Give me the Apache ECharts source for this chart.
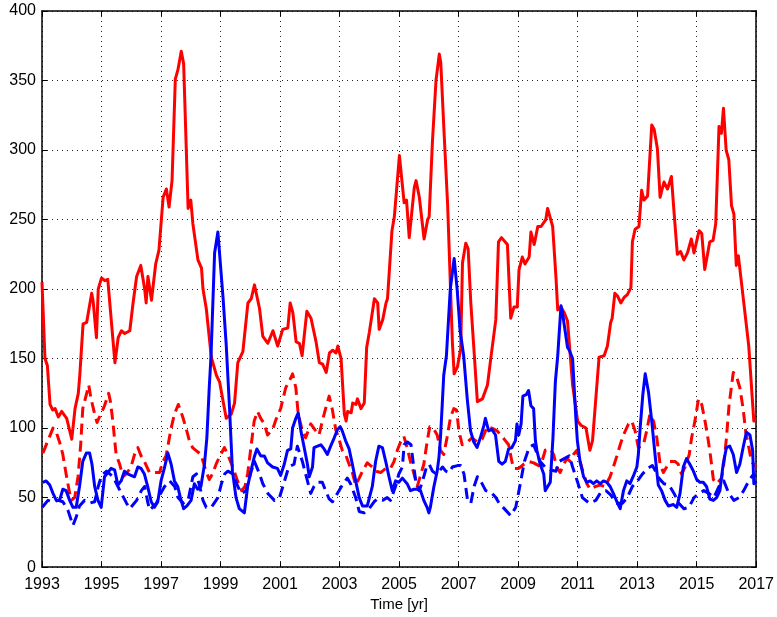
<!DOCTYPE html>
<html>
<head>
<meta charset="utf-8">
<title>Time series 1993-2017</title>
<script src="https://cdn.jsdelivr.net/npm/echarts@6/dist/echarts.min.js"></script>
<style>
html, body { margin: 0; padding: 0; background: #fff; }
#myChart { width: 777px; height: 617px; }
</style>
</head>
<body>
<div id="myChart"></div>
<script>
// x ticks / y ticks
var xTicks = [1993, 1995, 1997, 1999, 2001, 2003, 2005, 2007, 2009, 2011, 2013, 2015, 2017]
var yTicks = [0, 50, 100, 150, 200, 250, 300, 350, 400]

// red solid line [year, value]
var redSolid = [
  [1993.00,205],[1993.10,150],[1993.18,145],[1993.27,117],[1993.36,113],[1993.44,114],[1993.55,108],[1993.66,112],[1993.83,107],[1994.00,92],
  [1994.11,114],[1994.22,125],[1994.27,138],[1994.38,175],[1994.50,176],[1994.67,197],[1994.72,191],[1994.83,165],[1994.89,200],[1995.00,208],
  [1995.11,206],[1995.21,207],[1995.45,147],[1995.56,165],[1995.67,170],[1995.78,168],[1995.95,170],[1996.06,190],[1996.18,209],[1996.32,217],
  [1996.45,200],[1996.50,190],[1996.56,209],[1996.68,192],[1996.82,218],[1996.93,228],[1997.07,266],[1997.18,272],[1997.27,259],[1997.37,278],
  [1997.48,351],[1997.57,358],[1997.68,371],[1997.76,362],[1997.91,258],[1998.00,264],[1998.07,247],[1998.24,221],[1998.36,215],[1998.41,200],
  [1998.52,186],[1998.69,151],[1998.86,138],[1998.97,133],[1999.19,107],[1999.36,110],[1999.47,118],[1999.58,147],[1999.75,155],[1999.92,190],
  [2000.03,193],[2000.14,203],[2000.31,186],[2000.42,166],[2000.59,161],[2000.76,170],[2000.92,159],[2001.09,171],[2001.26,172],[2001.34,190],
  [2001.43,183],[2001.54,162],[2001.65,161],[2001.74,152],[2001.90,184],[2002.04,179],[2002.21,162],[2002.32,147],[2002.43,146],[2002.55,140],
  [2002.66,154],[2002.77,156],[2002.88,154],[2002.94,159],[2003.05,150],[2003.16,110],[2003.22,105],[2003.27,112],[2003.39,111],[2003.44,118],
  [2003.55,117],[2003.60,121],[2003.72,114],[2003.83,118],[2003.91,158],[2004.00,169],[2004.17,193],[2004.28,190],[2004.33,171],[2004.45,178],
  [2004.56,190],[2004.61,193],[2004.76,242],[2004.84,252],[2005.01,296],[2005.17,262],[2005.25,264],[2005.34,237],[2005.51,273],[2005.57,278],
  [2005.68,266],[2005.84,236],[2005.96,250],[2006.01,252],[2006.12,306],[2006.24,350],[2006.35,369],[2006.40,363],[2006.51,313],[2006.63,261],
  [2006.79,162],[2006.85,139],[2006.96,144],[2007.07,157],[2007.13,219],[2007.24,233],[2007.32,229],[2007.41,190],[2007.52,155],[2007.63,119],
  [2007.80,121],[2007.97,131],[2008.08,150],[2008.25,178],[2008.34,234],[2008.44,237],[2008.64,232],[2008.75,179],[2008.86,187],[2008.97,187],
  [2009.03,214],[2009.14,223],[2009.23,218],[2009.37,223],[2009.43,241],[2009.54,232],[2009.66,245],[2009.77,245],[2009.93,250],[2009.99,258],
  [2010.16,245],[2010.27,209],[2010.33,185],[2010.44,187],[2010.55,183],[2010.66,177],[2010.83,131],[2011.00,105],[2011.11,102],[2011.28,100],
  [2011.41,84],[2011.50,91],[2011.61,121],[2011.72,151],[2011.89,152],[2012.00,159],[2012.11,176],[2012.16,179],[2012.25,197],[2012.34,195],
  [2012.45,190],[2012.56,194],[2012.67,196],[2012.79,201],[2012.84,234],[2012.93,243],[2013.06,245],[2013.15,271],[2013.23,264],[2013.35,267],
  [2013.49,318],[2013.57,315],[2013.68,301],[2013.77,266],[2013.90,277],[2014.02,272],[2014.15,281],[2014.24,255],[2014.35,225],[2014.46,227],
  [2014.57,221],[2014.69,226],[2014.82,236],[2014.91,226],[2015.08,242],[2015.17,240],[2015.27,214],[2015.44,234],[2015.55,235],[2015.64,247],
  [2015.75,317],[2015.83,312],[2015.90,330],[2015.99,300],[2016.08,293],[2016.17,260],[2016.25,254],[2016.33,217],[2016.40,224],[2016.53,200],
  [2016.75,159],[2016.92,105],[2017.00,105]
]

// red dashed line
var redDashed = [
  [1993.03,82],[1993.37,100],[1993.48,97],[1993.59,90],[1993.70,81],[1993.81,67],[1993.93,53],[1993.98,48],[1994.10,50],[1994.21,65],
  [1994.30,88],[1994.37,114],[1994.49,124],[1994.57,131],[1994.65,121],[1994.77,110],[1994.85,104],[1994.97,110],[1995.10,116],[1995.24,125],
  [1995.30,119],[1995.38,105],[1995.49,81],[1995.61,74],[1995.72,65],[1995.83,67],[1995.99,72],[1996.11,81],[1996.22,86],[1996.33,80],
  [1996.44,76],[1996.61,68],[1996.78,68],[1996.95,68],[1997.06,76],[1997.17,80],[1997.34,100],[1997.45,110],[1997.58,117],[1997.73,108],
  [1997.84,100],[1997.95,91],[1998.06,86],[1998.17,84],[1998.34,81],[1998.51,69],[1998.62,63],[1998.73,67],[1998.85,74],[1998.96,79],
  [1999.13,86],[1999.24,81],[1999.41,72],[1999.57,62],[1999.71,55],[1999.82,58],[1999.91,67],[2000.02,86],[2000.13,105],[2000.24,112],
  [2000.35,107],[2000.47,103],[2000.58,95],[2000.75,99],[2000.86,106],[2001.02,114],[2001.19,129],[2001.36,136],[2001.42,139],[2001.53,129],
  [2001.61,110],[2001.75,98],[2001.86,93],[2002.03,103],[2002.20,98],[2002.31,95],[2002.42,105],[2002.53,114],[2002.65,123],[2002.76,113],
  [2002.87,99],[2002.98,92],[2003.09,84],[2003.20,81],[2003.32,74],[2003.43,68],[2003.54,59],[2003.66,64],[2003.77,69],[2003.93,75],
  [2004.10,72],[2004.21,69],[2004.38,68],[2004.55,71],[2004.71,71],[2004.83,76],[2004.94,84],[2005.05,90],[2005.16,94],[2005.27,86],
  [2005.38,76],[2005.50,67],[2005.61,58],[2005.72,66],[2005.83,74],[2005.94,90],[2006.03,101],[2006.17,99],[2006.28,95],[2006.39,84],
  [2006.50,81],[2006.61,93],[2006.73,108],[2006.84,114],[2006.93,113],[2007.01,98],[2007.12,88],[2007.29,90],[2007.45,93],[2007.62,90],
  [2007.79,92],[2007.96,101],[2008.12,100],[2008.29,98],[2008.46,94],[2008.57,91],[2008.68,88],[2008.79,76],[2008.85,71],[2009.02,71],
  [2009.19,74],[2009.35,76],[2009.52,75],[2009.69,73],[2009.80,76],[2009.91,84],[2010.08,85],[2010.19,81],[2010.30,72],[2010.41,68],
  [2010.53,74],[2010.64,78],[2010.75,76],[2010.86,81],[2010.97,84],[2011.08,76],[2011.20,67],[2011.31,60],[2011.42,56],[2011.59,58],
  [2011.76,59],[2011.92,58],[2012.09,65],[2012.20,72],[2012.32,80],[2012.43,88],[2012.54,95],[2012.71,103],[2012.82,105],[2012.93,98],
  [2013.04,86],[2013.21,88],[2013.32,98],[2013.43,110],[2013.55,105],[2013.66,93],[2013.77,74],[2013.88,68],[2013.99,72],[2014.10,76],
  [2014.27,76],[2014.38,74],[2014.49,67],[2014.61,72],[2014.75,81],[2014.83,93],[2014.94,105],[2015.06,121],[2015.17,117],[2015.28,105],
  [2015.39,91],[2015.47,79],[2015.56,63],[2015.67,60],[2015.84,64],[2015.91,74],[2016.00,93],[2016.09,117],[2016.23,140],[2016.34,137],
  [2016.45,129],[2016.56,114],[2016.65,97],[2016.77,84],[2016.84,76],[2017.00,72]
]

// blue solid line
var blueSolid = [
  [1993.03,61],[1993.14,62],[1993.26,59],[1993.37,53],[1993.48,48],[1993.59,48],[1993.70,56],[1993.81,55],[1993.93,48],[1994.04,43],
  [1994.15,43],[1994.26,58],[1994.37,76],[1994.49,82],[1994.60,82],[1994.68,74],[1994.77,58],[1994.88,48],[1994.99,43],[1995.10,65],
  [1995.21,68],[1995.32,71],[1995.44,70],[1995.55,59],[1995.66,62],[1995.77,69],[1995.88,67],[1995.99,66],[1996.11,65],[1996.22,72],
  [1996.33,71],[1996.44,67],[1996.55,58],[1996.67,47],[1996.78,43],[1996.89,47],[1997.00,62],[1997.11,71],[1997.23,82],[1997.34,74],
  [1997.45,62],[1997.56,58],[1997.65,50],[1997.76,42],[1997.87,44],[1998.01,48],[1998.12,60],[1998.23,56],[1998.34,58],[1998.46,74],
  [1998.54,93],[1998.62,129],[1998.68,152],[1998.80,226],[1998.91,241],[1999.08,195],[1999.19,160],[1999.30,115],[1999.40,69],[1999.52,50],
  [1999.63,42],[1999.80,39],[1999.91,58],[2000.02,69],[2000.13,79],[2000.22,85],[2000.35,80],[2000.47,80],[2000.58,75],[2000.75,72],
  [2000.91,71],[2001.02,66],[2001.14,74],[2001.25,84],[2001.36,85],[2001.42,100],[2001.53,107],[2001.61,111],[2001.70,98],[2001.81,86],
  [2001.92,74],[2001.98,65],[2002.09,72],[2002.14,86],[2002.26,87],[2002.37,88],[2002.48,85],[2002.59,81],[2002.70,87],[2002.82,93],
  [2002.93,99],[2003.02,101],[2003.09,98],[2003.20,91],[2003.32,85],[2003.43,74],[2003.54,62],[2003.66,50],[2003.77,44],[2003.93,44],
  [2004.10,58],[2004.21,76],[2004.32,87],[2004.44,86],[2004.55,76],[2004.66,65],[2004.77,55],[2004.88,62],[2004.99,61],[2005.11,64],
  [2005.16,65],[2005.27,60],[2005.38,55],[2005.50,56],[2005.61,56],[2005.72,55],[2005.83,48],[2005.94,43],[2006.00,39],[2006.05,43],
  [2006.17,58],[2006.28,69],[2006.34,79],[2006.39,93],[2006.45,117],[2006.50,138],[2006.59,152],[2006.72,200],[2006.85,222],[2006.95,200],
  [2007.05,170],[2007.17,152],[2007.29,121],[2007.40,98],[2007.51,90],[2007.62,86],[2007.73,93],[2007.85,102],[2007.90,107],[2008.01,98],
  [2008.12,99],[2008.24,95],[2008.35,76],[2008.46,74],[2008.57,76],[2008.68,85],[2008.79,86],[2008.91,91],[2008.96,103],[2009.02,95],
  [2009.10,103],[2009.16,123],[2009.27,124],[2009.35,127],[2009.43,116],[2009.52,114],[2009.58,91],[2009.63,84],[2009.74,74],[2009.86,67],
  [2009.91,55],[2009.97,54],[2010.08,61],[2010.17,93],[2010.25,133],[2010.33,152],[2010.44,188],[2010.49,183],[2010.55,184],[2010.66,158],
  [2010.72,156],[2010.83,150],[2010.94,107],[2010.99,91],[2011.08,76],[2011.20,65],[2011.31,61],[2011.42,62],[2011.53,60],[2011.64,62],
  [2011.76,60],[2011.87,62],[2011.98,61],[2012.09,58],[2012.20,53],[2012.32,47],[2012.43,42],[2012.54,55],[2012.65,62],[2012.76,60],
  [2012.88,66],[2012.99,72],[2013.04,81],[2013.10,100],[2013.19,124],[2013.27,139],[2013.38,126],[2013.49,105],[2013.60,81],[2013.71,59],
  [2013.82,55],[2013.94,48],[2014.05,44],[2014.22,45],[2014.33,43],[2014.44,53],[2014.55,72],[2014.66,78],[2014.77,74],[2014.89,69],
  [2015.00,63],[2015.11,61],[2015.22,61],[2015.33,58],[2015.44,49],[2015.56,48],[2015.67,50],[2015.78,55],[2015.89,74],[2016.00,86],
  [2016.11,87],[2016.23,81],[2016.34,68],[2016.45,74],[2016.56,86],[2016.67,97],[2016.79,95],[2016.88,84],[2016.92,60],[2017.00,62]
]

// blue dashed line
var blueDashed = [
  [1993.01,43],[1993.20,48],[1993.37,47],[1993.54,48],[1993.70,47],[1993.87,41],[1994.04,30],[1994.15,36],[1994.26,44],[1994.43,48],
  [1994.60,46],[1994.77,47],[1994.89,58],[1995.00,66],[1995.17,69],[1995.39,65],[1995.62,55],[1995.84,46],[1995.95,42],[1996.18,48],
  [1996.34,55],[1996.45,58],[1996.56,46],[1996.62,41],[1996.85,46],[1996.96,52],[1997.12,58],[1997.29,62],[1997.46,58],[1997.57,50],
  [1997.74,46],[1997.91,48],[1998.07,65],[1998.19,67],[1998.30,58],[1998.41,48],[1998.52,43],[1998.69,43],[1998.91,50],[1999.03,60],
  [1999.14,67],[1999.25,69],[1999.42,67],[1999.58,58],[1999.70,53],[1999.86,55],[2000.03,69],[2000.14,76],[2000.31,67],[2000.42,60],
  [2000.59,53],[2000.81,48],[2000.98,50],[2001.15,62],[2001.29,72],[2001.47,74],[2001.58,87],[2001.64,86],[2001.75,76],[2001.92,62],
  [2002.03,53],[2002.14,58],[2002.26,61],[2002.42,61],[2002.53,55],[2002.65,49],[2002.76,47],[2002.98,55],[2003.09,59],[2003.26,64],
  [2003.37,60],[2003.54,50],[2003.66,40],[2003.82,39],[2003.99,42],[2004.16,47],[2004.27,49],[2004.44,48],[2004.60,50],[2004.71,48],
  [2004.88,58],[2004.99,67],[2005.11,72],[2005.17,88],[2005.28,90],[2005.40,88],[2005.48,74],[2005.56,62],[2005.68,55],[2005.79,62],
  [2005.92,72],[2006.01,74],[2006.12,69],[2006.24,67],[2006.35,69],[2006.46,72],[2006.57,69],[2006.68,68],[2006.79,72],[2006.96,73],
  [2007.07,73],[2007.18,67],[2007.30,48],[2007.41,46],[2007.52,58],[2007.63,65],[2007.74,62],[2007.91,55],[2008.08,54],[2008.25,50],
  [2008.36,46],[2008.58,41],[2008.75,37],[2008.92,43],[2009.09,62],[2009.21,76],[2009.37,86],[2009.52,88],[2009.63,82],[2009.74,76],
  [2009.90,72],[2010.07,70],[2010.27,69],[2010.38,76],[2010.55,78],[2010.72,80],[2010.83,72],[2011.00,61],[2011.16,50],[2011.39,46],
  [2011.61,48],[2011.78,54],[2011.95,55],[2012.11,52],[2012.28,46],[2012.51,46],[2012.67,50],[2012.84,58],[2013.01,62],[2013.18,67],
  [2013.35,71],[2013.51,73],[2013.62,69],[2013.73,64],[2013.90,60],[2014.07,59],[2014.24,53],[2014.40,46],[2014.57,42],[2014.74,43],
  [2014.91,50],[2015.08,53],[2015.24,55],[2015.41,53],[2015.58,50],[2015.75,58],[2015.91,62],[2016.08,53],[2016.25,48],[2016.42,50],
  [2016.58,55],[2016.75,62],[2016.88,66],[2017.00,66]
]

var fontName = 'Liberation Sans, Arial, Helvetica, sans-serif'

var myChart = echarts.init(document.getElementById('myChart'), null, { renderer: 'canvas' })

function boxAxis (pos, isX) {
  // axis used only for the frame and inner ticks on top / right
  var ax = {
    type: 'value',
    position: pos,
    min: isX ? xTicks[0] : yTicks[0],
    max: isX ? xTicks[xTicks.length - 1] : yTicks[yTicks.length - 1],
    interval: isX ? 2 : 50,
    axisLine: { show: true, onZero: false, lineStyle: { color: '#000', width: 1.5 } },
    axisTick: { show: true, inside: true, length: 5, lineStyle: { color: '#000', width: 1 } },
    axisLabel: { show: false },
    splitLine: { show: false }
  }
  return ax
}

var xMain = boxAxis('bottom', true)
xMain.axisLabel = {
  show: true, color: '#000', fontSize: 16, fontFamily: fontName, margin: 9,
  formatter: function (v) { return String(v) }
}
xMain.splitLine = { show: true, lineStyle: { color: '#222', width: 1, type: [1, 4] } }
xMain.name = 'Time [yr]'
xMain.nameLocation = 'middle'
xMain.nameGap = 26
xMain.nameTextStyle = { color: '#000', fontSize: 15, fontFamily: fontName }

var yMain = boxAxis('left', false)
yMain.axisLabel = { show: true, color: '#000', fontSize: 16, fontFamily: fontName, margin: 6 }
yMain.splitLine = { show: true, lineStyle: { color: '#222', width: 1, type: [1, 4] } }

function lineSeries (name, data, color, dashed) {
  return {
    name: name,
    type: 'line',
    data: data,
    showSymbol: false,
    symbol: 'none',
    smooth: false,
    xAxisIndex: 0,
    yAxisIndex: 0,
    lineStyle: { color: color, width: 3, type: dashed ? [11, 6] : 'solid', cap: 'butt', join: 'round' },
    itemStyle: { color: color }
  }
}

myChart.setOption({
  animation: false,
  backgroundColor: '#fff',
  grid: { left: 42, right: 19, top: 11, bottom: 43, containLabel: false },
  xAxis: [xMain, boxAxis('top', true)],
  yAxis: [yMain, boxAxis('right', false)],
  series: [
    lineSeries('red solid', redSolid, '#ff0000', false),
    lineSeries('red dashed', redDashed, '#ff0000', true),
    lineSeries('blue solid', blueSolid, '#0000ff', false),
    lineSeries('blue dashed', blueDashed, '#0000ff', true)
  ]
})
</script>
</body>
</html>
